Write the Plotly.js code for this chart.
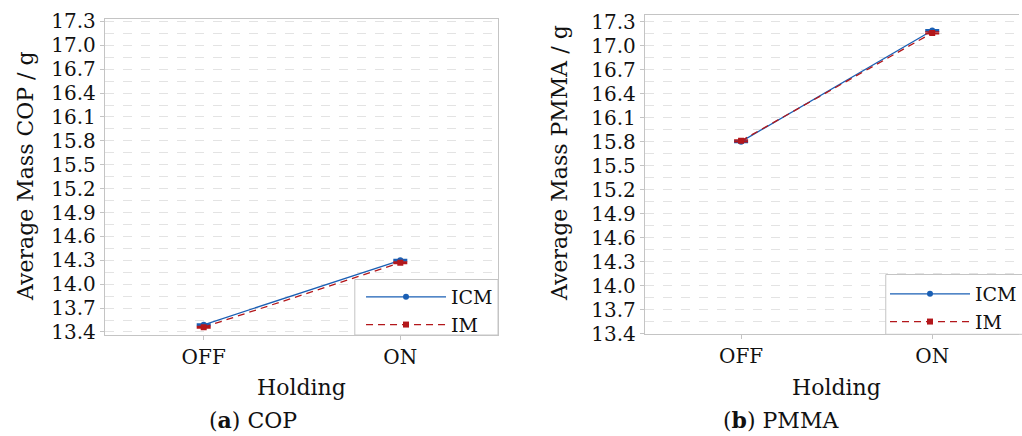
<!DOCTYPE html>
<html>
<head>
<meta charset="utf-8">
<script src="https://cdn.plot.ly/plotly-3.0.1.min.js"></script>
<style>html,body{margin:0;padding:0;background:#fff;overflow:hidden}</style>
</head>
<body>
<div id="chart" style="width:1022px;height:436px"></div>
<script>
// ---- data ----
const categories = ['OFF', 'ON'];
const copICM = [13.49, 14.30];
const copIM = [13.46, 14.27];
const copICMErr = [0.01, 0.01];
const copIMErr = [0.01, 0.01];
const pmmaICM = [15.80, 17.19];
const pmmaIM = [15.81, 17.16];
const pmmaICMErr = [0.01, 0.01];
const pmmaIMErr = [0.01, 0.01];
const seriesNames = ['ICM', 'IM'];
const yTitles = ['Average Mass COP / g', 'Average Mass PMMA / g'];
const xTitle = 'Holding';
const captions = ['(<b>a</b>) COP', '(<b>b</b>) PMMA'];

// ---- style ----
const FONT = 'DejaVu Serif';
const BLUE = '#1a5fb4';
const RED = '#b3171b';
const GRID = '#e3e3e3';
const FRAME = '#c4c4c4';

function icmTrace(y, err, xa, ya, leg) {
  return {
    type: 'scatter', mode: 'lines+markers', name: seriesNames[0],
    x: categories, y: y, xaxis: xa, yaxis: ya, legend: leg,
    line: {color: BLUE, width: 1.3},
    marker: {color: BLUE, size: 6, symbol: 'circle'},
    error_y: {type: 'data', array: err, visible: true, color: BLUE, thickness: 1.5, width: 7}
  };
}
function imTrace(y, err, xa, ya, leg) {
  return {
    type: 'scatter', mode: 'lines+markers', name: seriesNames[1],
    x: categories, y: y, xaxis: xa, yaxis: ya, legend: leg,
    line: {color: RED, width: 1.3, dash: '7px,5px'},
    marker: {color: RED, size: 6, symbol: 'square'},
    error_y: {type: 'data', array: err, visible: true, color: RED, thickness: 1.5, width: 7}
  };
}

const data = [
  icmTrace(copICM, copICMErr, 'x', 'y', 'legend'),
  imTrace(copIM, copIMErr, 'x', 'y', 'legend'),
  icmTrace(pmmaICM, pmmaICMErr, 'x2', 'y2', 'legend2'),
  imTrace(pmmaIM, pmmaIMErr, 'x2', 'y2', 'legend2')
];

const W = 1022, H = 436;
const px = v => v / W;
const py = v => 1 - v / H;

function xAxis(domain, range, mirror) {
  return {
    domain: domain, type: 'category', range: range,
    showline: true, mirror: mirror, linecolor: FRAME, linewidth: 1,
    ticks: 'outside', ticklen: 4, tickcolor: FRAME,
    tickfont: {family: FONT, size: 20, color: '#111'},
    showgrid: false, zeroline: false, fixedrange: true
  };
}
function yAxis(domain, range, anchor, mirror) {
  return {
    domain: domain, range: range, anchor: anchor,
    tick0: 13.4, dtick: 0.3, tickformat: '.1f',
    showline: true, mirror: mirror, linecolor: FRAME, linewidth: 1,
    ticks: 'outside', ticklen: 4, tickcolor: FRAME,
    tickfont: {family: FONT, size: 20, color: '#111'},
    showgrid: true, gridcolor: GRID, griddash: 'dash', gridwidth: 1,
    minor: {tick0: 13.4, dtick: 0.15, showgrid: true, gridcolor: GRID, griddash: 'dash', gridwidth: 1, ticks: ''},
    zeroline: false, fixedrange: true
  };
}

const legendStyle = {
  bgcolor: 'rgba(0,0,0,0)', borderwidth: 0,
  font: {family: FONT, size: 19, color: '#111'},
  itemwidth: 80, tracegroupgap: 0, yanchor: 'top'
};

const annFont = {family: FONT, size: 22, color: '#111'};
function ann(text, x, y, angle) {
  return {text: text, textangle: angle || 0, x: px(x), y: py(y), xref: 'paper', yref: 'paper',
          xanchor: 'center', yanchor: 'middle', showarrow: false, font: annFont};
}
function legendBox(x0, y0, x1, y1) {
  return {type: 'rect', xref: 'paper', yref: 'paper', x0: px(x0), x1: px(x1), y0: py(y1), y1: py(y0),
          fillcolor: '#ffffff', line: {color: FRAME, width: 1}, layer: 'above'};
}

const layout = {
  width: W, height: H,
  margin: {l: 0, r: 0, t: 0, b: 0},
  paper_bgcolor: '#fff', plot_bgcolor: '#fff',
  font: {family: FONT, color: '#111'},
  xaxis: Object.assign(xAxis([px(105), px(499)], [-0.503, 1.497], true), {anchor: 'y'}),
  yaxis: yAxis([py(335), py(19)], [13.362, 17.33], 'x', true),
  xaxis2: Object.assign(xAxis([px(646), px(1021)], [-0.504, 1.454], true), {anchor: 'y2'}),
  yaxis2: yAxis([py(334.3), py(15)], [13.39, 17.384], 'x2', false),
  legend: Object.assign({}, legendStyle, {x: px(499), xanchor: 'right', y: py(278)}),
  legend2: Object.assign({}, legendStyle, {x: px(887), xanchor: 'left', y: py(275)}),
  shapes: [
    legendBox(355.5, 279.5, 499, 335),
    legendBox(887.5, 274.5, 1030, 334.3)
  ],
  annotations: [
    ann(yTitles[0], 25, 176, -90),
    ann(yTitles[1], 560, 163, -90),
    ann(xTitle, 302, 387),
    ann(xTitle, 838, 387),
    ann(captions[0], 253, 420),
    ann(captions[1], 783, 420)
  ]
};

Plotly.newPlot('chart', data, layout, {displayModeBar: false, staticPlot: true});
</script>
</body>
</html>
